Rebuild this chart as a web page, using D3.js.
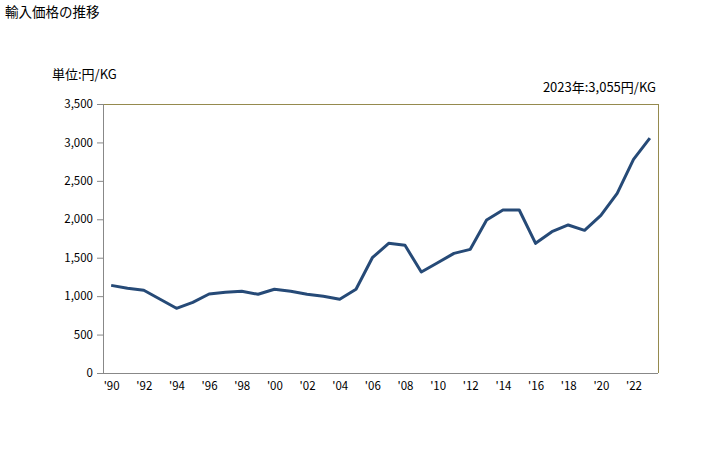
<!DOCTYPE html>
<html>
<head>
<meta charset="utf-8">
<script src="https://cdn.jsdelivr.net/npm/d3@7"></script>
<style>
  body { margin: 0; background: #fff; }
  svg text { font-family: "Noto Sans CJK JP", "Noto Sans", sans-serif; fill: #000; }
</style>
</head>
<body>
<svg id="chart" width="728" height="450"></svg>
<script>
const years = d3.range(1990, 2024);
const prices = [
  1140, 1102, 1076, 960, 842, 920, 1028, 1050, 1063, 1024,
  1089, 1063, 1024, 998, 959, 1089, 1500, 1687, 1661, 1314,
  1435, 1557, 1609, 1991, 2121, 2121, 1687, 1838, 1926, 1856,
  2050, 2338, 2780, 3055,
];
const yTicks = [0, 500, 1000, 1500, 2000, 2500, 3000, 3500];

const svg = d3.select("#chart");
const plotLeft = 103, plotRight = 658, plotTop = 104, plotBottom = 373;

const x = d3.scalePoint().domain(years).range([plotLeft, plotRight]).padding(0.5);
const y = d3.scaleLinear().domain([0, 3500]).range([plotBottom, plotTop]);

svg.append("text").attr("x", 5).attr("y", 17).attr("font-size", 13.5).text("輸入価格の推移");
svg.append("text").attr("x", 52).attr("y", 79).attr("font-size", 13).text("単位:円/KG");
svg.append("text").attr("x", 656).attr("y", 92).attr("font-size", 13).attr("text-anchor", "end")
  .text("2023年:3,055円/KG");

// frame: top/right olive, left/bottom grey
svg.append("line").attr("x1", plotLeft).attr("x2", plotRight).attr("y1", plotTop + 0.5).attr("y2", plotTop + 0.5)
  .attr("stroke", "#958a4e").attr("stroke-width", 1);
svg.append("line").attr("x1", plotRight + 0.5).attr("x2", plotRight + 0.5).attr("y1", plotTop).attr("y2", plotBottom)
  .attr("stroke", "#958a4e").attr("stroke-width", 1);

const yAxis = svg.append("g").attr("transform", `translate(${plotLeft},0)`)
  .call(d3.axisLeft(y).tickValues(yTicks).tickSize(6).tickPadding(4).tickFormat(d3.format(",")));
yAxis.select(".domain").attr("stroke", "#888");
yAxis.selectAll(".tick line").attr("stroke", "#888");
yAxis.selectAll("text").attr("font-size", 11.5).style("font-family", "\"Noto Sans CJK JP\", sans-serif");

const xAxis = svg.append("g").attr("transform", `translate(0,${plotBottom})`)
  .call(d3.axisBottom(x).tickValues(years.filter((d) => d % 2 === 0)).tickSize(0).tickPadding(9)
    .tickFormat((d) => "'" + String(d).slice(2)));
xAxis.select(".domain").attr("d", `M${plotLeft},0.5H${plotRight}`).attr("stroke", "#888");
xAxis.selectAll("text").attr("font-size", 11.5).style("font-family", "\"Noto Sans CJK JP\", sans-serif");

svg.append("path")
  .datum(prices)
  .attr("fill", "none")
  .attr("stroke", "#264a77")
  .attr("stroke-width", 3)
  .attr("stroke-linejoin", "round")
  .attr("d", d3.line().x((d, i) => x(years[i])).y((d) => y(d)));
</script>
</body>
</html>
